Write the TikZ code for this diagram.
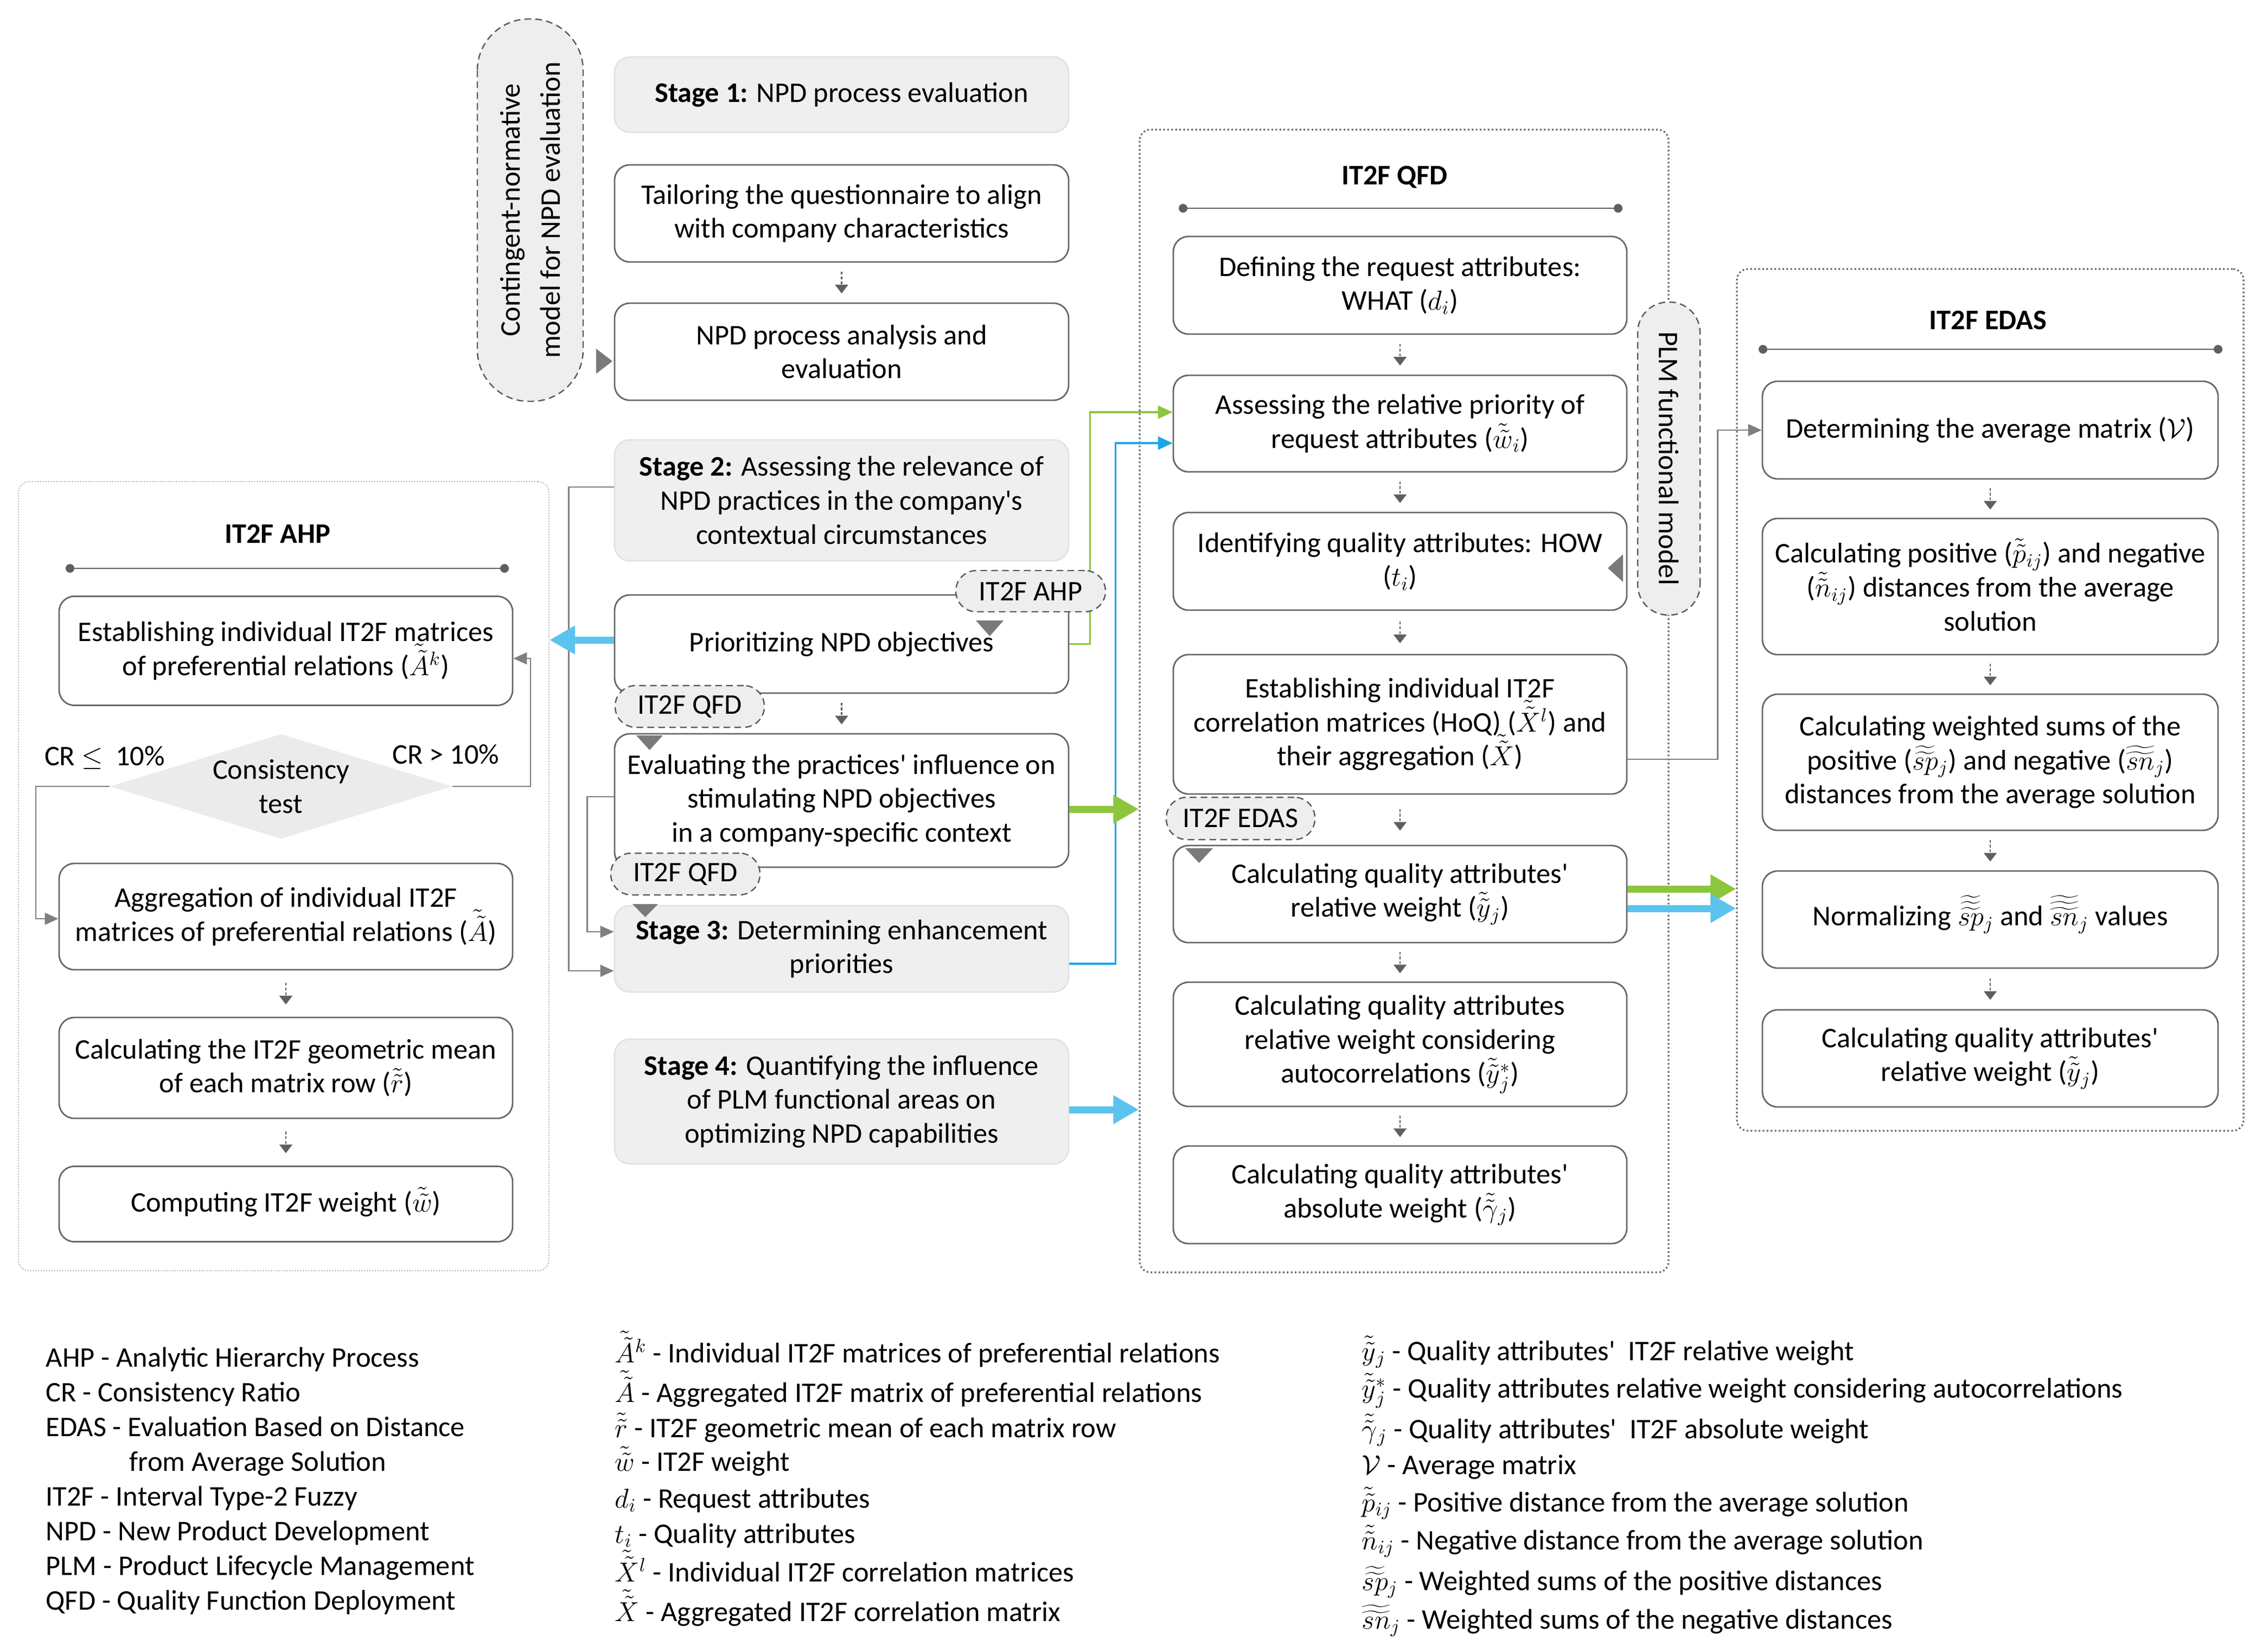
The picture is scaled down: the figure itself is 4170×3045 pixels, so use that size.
\documentclass[tikz,border=0pt]{standalone}
\usepackage{fontspec}
\setmainfont{Carlito}
\usetikzlibrary{arrows.meta,shapes.geometric,calc}
\definecolor{boxgray}{HTML}{666666}
\definecolor{stagefill}{HTML}{EFEFEF}
\definecolor{stageline}{HTML}{E2E2E2}
\definecolor{contgray}{HTML}{6A6A6A}
\definecolor{contlight}{HTML}{B8B8B8}
\definecolor{taggray}{HTML}{5A5A5A}
\definecolor{tagfill}{HTML}{EEEEEE}
\definecolor{conngray}{HTML}{7F7F7F}
\definecolor{markgray}{HTML}{7A7A7A}
\definecolor{sepgray}{HTML}{5F5F5F}
\definecolor{grn}{HTML}{8CC63F}
\definecolor{bluethick}{HTML}{5BC3EE}
\definecolor{bluethin}{HTML}{1BA6EC}
\definecolor{diafill}{HTML}{EBEBEB}
\newcommand\bx{\fontsize{14.9}{17.8}\selectfont}
\newcommand\ap{\textquotesingle}
\newcommand\dt[1]{\smash{\tilde{\tilde{#1}}}\vphantom{#1}}
\newcommand\dwt[1]{\smash{\widetilde{\widetilde{#1}}}\vphantom{#1}}
\newcommand\twt[1]{\smash{\widetilde{\widetilde{\widetilde{#1}}}}\vphantom{#1}}
\newcommand\dnarrow[2]{\draw[smallarr] ($(#1.south)!0.5!(#2.north)+(0,-20)$) -- ($(#1.south)!0.5!(#2.north)+(0,20)$);}
\begin{document}
\begin{tikzpicture}[x=0.01cm,y=-0.01cm,font=\bx,
  wh/.style 2 args={minimum width=#1*0.01cm,minimum height=#2*0.01cm},
  box/.style={draw=boxgray,line width=0.8pt,rounded corners=0.28cm,fill=white,align=center,inner sep=0pt},
  stagebox/.style={box,draw=stageline,fill=stagefill},
  cont/.style={draw=contgray,line width=0.9pt,dash pattern=on 0.9pt off 1.2pt,rounded corners=0.2cm,inner sep=0pt},
  contl/.style={draw=contlight,line width=0.6pt,dash pattern=on 0.6pt off 0.8pt,rounded corners=0.2cm,inner sep=0pt},
  tag/.style={draw=taggray,fill=tagfill,line width=0.7pt,dash pattern=on 3.5pt off 2.2pt,rounded corners=0.38cm,inner sep=0pt,align=center},
  title/.style={font=\bx\bfseries},
  sepline/.style={draw=sepgray,line width=0.8pt,{Circle[length=0.16cm]}-{Circle[length=0.16cm]}},
  conn/.style={draw=conngray,line width=0.7pt,-{Triangle[length=0.25cm,width=0.22cm]}},
  thinarr/.style={line width=1pt,-{Triangle[length=0.27cm,width=0.24cm]}},
  thickarr/.style={line width=3.7pt,-{Triangle[length=0.47cm,width=0.5cm]}},
  smallarr/.style={draw=sepgray,line width=0.6pt,dash pattern=on 1.5pt off 1pt,-{Triangle[length=0.16cm,width=0.24cm]}},
  leg/.style={anchor=base west,inner sep=0pt}
]
\useasboundingbox (0,0) rectangle (4170,3045);

% containers
\node[contl,wh={978}{1455}] (ahpc) at (523,1615.5) {};
\node[cont,wh={975}{2107}] (qfdc) at (2588.5,1292.5) {};
\node[cont,wh={934}{1589}] (edc) at (3669,1290.5) {};

% titles and separators
\node[title] (tahp) at (512,984) {IT2F AHP};
\node[title] (tqfd) at (2571,327) {IT2F QFD};
\node[title] (teda) at (3665,590) {IT2F EDAS};
\draw[sepline] (121,1048) -- (938,1048);
\draw[sepline] (2173,384) -- (2991,384);
\draw[sepline] (3242,644) -- (4097,644);

% AHP column
\node[box,wh={836}{201}] (ahp1) at (527,1200) {Establishing individual IT2F matrices\\of preferential relations ($\dt{A}^k$)};
\node[diamond,fill=diafill,draw=none,aspect=3.26,minimum width=6.3cm,minimum height=1.93cm,inner sep=0pt,align=center] (dia) at (518,1450) {Consistency\\test};
\node[box,wh={836}{196}] (ahp2) at (527,1690) {Aggregation of individual IT2F\\matrices of preferential relations ($\dt{A}$)};
\node[box,wh={836}{186}] (ahp3) at (527,1969) {Calculating the IT2F geometric mean\\of each matrix row ($\dt{r}$)};
\node[box,wh={836}{139}] (ahp4) at (527,2220) {Computing IT2F weight ($\dt{w}$)};
\node (crl) at (193,1397) {CR \ensuremath{\leq}\ \ 10\%};
\node (crg) at (822,1391) {CR > 10\%};

% middle column
\node[stagebox,wh={837}{139}] (s1) at (1551.5,174.5) {\textbf{Stage 1:} NPD process evaluation};
\node[box,wh={837}{179}] (tail) at (1551.5,393.5) {Tailoring the questionnaire to align\\with company characteristics};
\node[box,wh={837}{179}] (npdan) at (1551.5,648.5) {NPD process analysis and\\evaluation};
\node[stagebox,wh={837}{223}] (s2) at (1551.5,922.5) {\textbf{Stage 2:} Assessing the relevance of\\NPD practices in the company\ap s\\contextual circumstances};
\node[box,wh={837}{181}] (prio) at (1551.5,1187.5) {Prioritizing NPD objectives};
\node[box,wh={837}{246}] (eval) at (1551.5,1476) {Evaluating the practices\ap{} influence on\\stimulating NPD objectives\\in a company-specific context};
\node[stagebox,wh={837}{159}] (s3) at (1551.5,1749.5) {\textbf{Stage 3:} Determining enhancement\\priorities};
\node[stagebox,wh={837}{230}] (s4) at (1551.5,2031) {\textbf{Stage 4:} Quantifying the influence\\of PLM functional areas on\\optimizing NPD capabilities};

% QFD column
\node[box,wh={836}{180}] (q1) at (2581,526) {Defining the request attributes:\\WHAT ($d_i$)};
\node[box,wh={836}{178}] (q2) at (2581,781) {Assessing the relative priority of\\request attributes ($\dt{w}_i$)};
\node[box,wh={836}{180}] (q3) at (2581,1035) {Identifying quality attributes: HOW\\($t_i$)};
\node[box,wh={836}{257}] (q4) at (2581,1335.5) {Establishing individual IT2F\\correlation matrices (HoQ) ($\dt{X}^l$) and\\their aggregation ($\dt{X}$)};
\node[box,wh={836}{179}] (q5) at (2581,1648.5) {Calculating quality attributes\ap\\relative weight ($\dt{y}_j$)};
\node[box,wh={836}{229}] (q6) at (2581,1925.5) {Calculating quality attributes\\relative weight considering\\autocorrelations ($\dt{y}_j^*$)};
\node[box,wh={836}{180}] (q7) at (2581,2203) {Calculating quality attributes\ap\\absolute weight ($\dt{\gamma}_j$)};

% EDAS column
\node[box,wh={840}{180}] (e1) at (3669,793) {Determining the average matrix ($\mathcal{V}$)};
\node[box,wh={840}{251}] (e2) at (3669,1081.5) {Calculating positive ($\dt{p}_{ij}$) and negative\\($\dt{n}_{ij}$) distances from the average\\solution};
\node[box,wh={840}{251}] (e3) at (3669,1405.5) {Calculating weighted sums of the\\positive ($\dwt{sp}_j$) and negative ($\dwt{sn}_j$)\\distances from the average solution};
\node[box,wh={840}{179}] (e4) at (3669,1695.5) {Normalizing $\twt{sp}_j$ and $\twt{sn}_j$ values};
\node[box,wh={840}{179}] (e5) at (3669,1951.5) {Calculating quality attributes\ap\\relative weight ($\dt{y}_j$)};

% small step arrows
\dnarrow{tail}{npdan}
\dnarrow{prio}{eval}
\dnarrow{ahp2}{ahp3}
\dnarrow{ahp3}{ahp4}
\dnarrow{q1}{q2}
\dnarrow{q2}{q3}
\dnarrow{q3}{q4}
\dnarrow{q4}{q5}
\dnarrow{q5}{q6}
\dnarrow{q6}{q7}
\dnarrow{e1}{e2}
\dnarrow{e2}{e3}
\dnarrow{e3}{e4}
\dnarrow{e4}{e5}

% gray connectors
\draw[conn] ([yshift=0.245cm]s2.west) -- ++(-83,0) |- ([yshift=-0.405cm]s3.west);
\draw[conn] ([yshift=0.07cm]eval.west) -- ++(-49,0) |- ([yshift=0.315cm]s3.west);
\draw[conn] (dia.east) -- ++(144,0) |- ([yshift=-0.14cm]ahp1.east);
\draw[conn] (dia.west) -- ++(-136,0) |- ([yshift=-0.04cm]ahp2.west);
\draw[conn] ([yshift=-0.645cm]q4.east) -- ++(166,0) |- (e1.west);

% coloured thin connectors
\draw[thinarr,draw=grn,color=grn] (prio.east) -- ++(38,0) |- ([yshift=0.21cm]q2.west);
\draw[thinarr,draw=bluethin,color=bluethin] ([yshift=-0.275cm]s3.east) -- ++(85,0) |- ([yshift=-0.36cm]q2.west);

% thick arrows
\draw[thickarr,draw=bluethick,color=bluethick] ([yshift=0.075cm]prio.west) -- ([yshift=0.075cm]prio.west -| ahpc.east);
\draw[thickarr,draw=grn,color=grn] ([yshift=-0.16cm]eval.east) -- ([yshift=-0.16cm]eval.east -| qfdc.west);
\draw[thickarr,draw=bluethick,color=bluethick] ([yshift=-0.15cm]s4.east) -- ([yshift=-0.15cm]s4.east -| qfdc.west);
\draw[thickarr,draw=grn,color=grn] ([yshift=0.095cm]q5.east) -- ([yshift=0.095cm]q5.east -| edc.west);
\draw[thickarr,draw=bluethick,color=bluethick] ([yshift=-0.265cm]q5.east) -- ([yshift=-0.265cm]q5.east -| edc.west);

% tags and pills
\node[tag,wh={276}{76}] (tagahp) at (1900,1090) {IT2F AHP};
\node[tag,wh={275}{77}] (tagqfd1) at (1271.5,1302.5) {IT2F QFD};
\node[tag,wh={275}{77}] (tagqfd2) at (1263.5,1611.5) {IT2F QFD};
\node[tag,wh={274}{78}] (tageda) at (2287,1509) {IT2F EDAS};
\node[tag,rotate=90,wh={705}{195},rounded corners=0.95cm,font=\fontsize{14.9}{21}\selectfont] (cnm) at (977.5,387.5) {Contingent-normative\\model for NPD evaluation};
\node[tag,rotate=-90,wh={577}{115},rounded corners=0.56cm] (plm) at (3076.5,845.5) {PLM functional model};

% triangle markers
\fill[markgray] (1799,1144) -- (1850,1144) -- (1824.5,1173) -- cycle;
\fill[markgray] (1173,1356) -- (1222,1356) -- (1197.5,1383) -- cycle;
\fill[markgray] (1166,1667) -- (1213,1667) -- (1189.5,1691) -- cycle;
\fill[markgray] (2185,1564) -- (2236,1564) -- (2210.5,1591) -- cycle;
\fill[markgray] (2992,1022) -- (2992,1073) -- (2964,1047.5) -- cycle;
\fill[markgray] (1099,643) -- (1099,689) -- (1129,666) -- cycle;

% legend column 1
\node[leg] (la) at (84,2520) {AHP - Analytic Hierarchy Process};
\node[leg] (lb) at (84,2584) {CR - Consistency Ratio};
\node[leg] (lc) at (84,2648) {EDAS - Evaluation Based on Distance};
\node[leg] (ld) at (238,2712) {from Average Solution};
\node[leg] (le) at (84,2776) {IT2F - Interval Type-2 Fuzzy};
\node[leg] (lf) at (84,2840) {NPD - New Product Development};
\node[leg] (lg) at (84,2904) {PLM - Product Lifecycle Management};
\node[leg] (lh) at (84,2968) {QFD - Quality Function Deployment};

% legend column 2
\node[leg] (ma) at (1133,2512) {$\dt{A}^k$ - Individual IT2F matrices of preferential relations};
\node[leg] (mb) at (1133,2585) {$\dt{A}$ - Aggregated IT2F matrix of preferential relations};
\node[leg] (mc) at (1133,2650) {$\dt{r}$ - IT2F geometric mean of each matrix row};
\node[leg] (md) at (1133,2712) {$\dt{w}$ - IT2F weight};
\node[leg] (me) at (1133,2780) {$d_i$ - Request attributes};
\node[leg] (mf) at (1133,2845) {$t_i$ - Quality attributes};
\node[leg] (mg) at (1133,2916) {$\dt{X}^l$ - Individual IT2F correlation matrices};
\node[leg] (mh) at (1133,2989) {$\dt{X}$ - Aggregated IT2F correlation matrix};

% legend column 3
\node[leg] (na) at (2510,2508) {$\dt{y}_j$ - Quality attributes\ap\ \ IT2F relative weight};
\node[leg] (nb) at (2510,2577) {$\dt{y}_j^*$ - Quality attributes relative weight considering autocorrelations};
\node[leg] (nc) at (2510,2652) {$\dt{\gamma}_j$ - Quality attributes\ap\ \ IT2F absolute weight};
\node[leg] (nd) at (2510,2718) {$\mathcal{V}$ - Average matrix};
\node[leg] (ne) at (2510,2787) {$\dt{p}_{ij}$ - Positive distance from the average solution};
\node[leg] (nf) at (2510,2857) {$\dt{n}_{ij}$ - Negative distance from the average solution};
\node[leg] (ng) at (2510,2932) {$\dwt{sp}_j$ - Weighted sums of the positive distances};
\node[leg] (nh) at (2510,3003) {$\dwt{sn}_j$ - Weighted sums of the negative distances};
\end{tikzpicture}
\end{document}
